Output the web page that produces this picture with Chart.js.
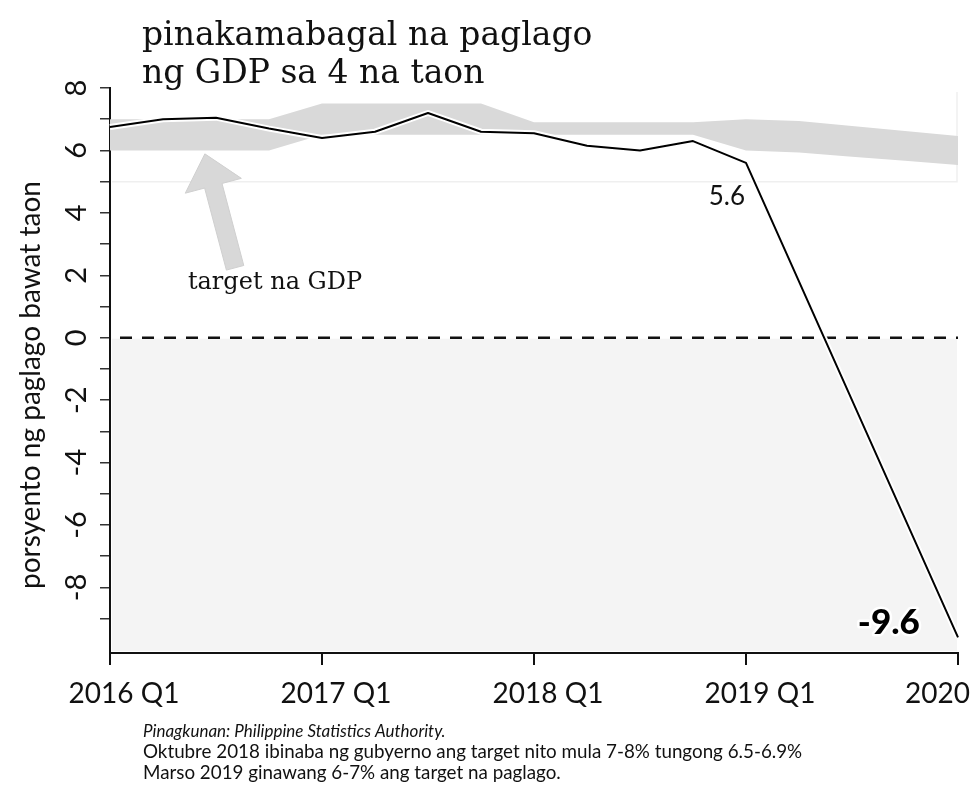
<!DOCTYPE html>
<html>
<head>
<meta charset="utf-8">
<script src="https://cdn.jsdelivr.net/npm/chart.js@4.4.1/dist/chart.umd.min.js"></script>
<style>
  html, body { margin: 0; padding: 0; background: #ffffff; }
  #wrap { width: 971px; height: 785px; position: relative; }
  canvas { display: block; }
</style>
</head>
<body>
<div id="wrap"><canvas id="c" width="971" height="785"></canvas></div>
<script>
// ---------- data ----------
const quarters = ['2016 Q1','2016 Q2','2016 Q3','2016 Q4','2017 Q1','2017 Q2','2017 Q3','2017 Q4',
                  '2018 Q1','2018 Q2','2018 Q3','2018 Q4','2019 Q1','2019 Q2','2019 Q3','2019 Q4','2020'];
const gdpGrowth   = [6.75, 7.0, 7.05, 6.7, 6.4, 6.6, 7.2, 6.6, 6.55, 6.15, 6.0, 6.3, 5.6, null, null, null, -9.6];
const targetUpper = [7.0, 7.0, 7.0, 7.0, 7.5, 7.5, 7.5, 7.5, 6.9, 6.9, 6.9, 6.9, 7.0, 6.94, 6.78, 6.62, 6.46];
const targetLower = [6.0, 6.0, 6.0, 6.0, 6.5, 6.5, 6.5, 6.5, 6.5, 6.5, 6.5, 6.5, 6.0, 5.93, 5.8, 5.67, 5.53];
const xTickLabels = ['2016 Q1','2017 Q1','2018 Q1','2019 Q1','2020'];
const yTickValues = [-9,-8,-7,-6,-5,-4,-3,-2,-1,0,1,2,3,4,5,6,7,8];
const yTickLabels = ['','-8','','-6','','-4','','-2','','0','','2','','4','','6','','8'];
const yAxisTitle  = 'porsyento ng paglago bawat taon';
const chartTitle  = ['pinakamabagal na paglago', 'ng GDP sa 4 na taon'];
const footnotes   = ['Pinagkunan: Philippine Statistics Authority.',
                     'Oktubre 2018 ibinaba ng gubyerno ang target nito mula 7-8% tungong 6.5-6.9%',
                     'Marso 2019 ginawang 6-7% ang target na paglago.'];
const targetLabel = 'target na GDP';
const lastQuarterLabel = '5.6';
const latestLabel = '-9.6';

// ---------- decorations ----------
const decor = {
  id: 'decor',
  beforeDatasetsDraw(chart) {
    const {ctx, chartArea: a, scales: {x, y}} = chart;
    ctx.save();
    // light panel below zero
    const y0 = y.getPixelForValue(0);
    ctx.fillStyle = '#f4f4f4';
    ctx.fillRect(a.left + 2, y0 + 1, a.right - a.left - 3, a.bottom - y0 - 3);
    // faint panel outline above 5
    const y5 = y.getPixelForValue(5);
    ctx.strokeStyle = '#efefef';
    ctx.lineWidth = 1.5;
    ctx.beginPath();
    ctx.moveTo(a.left + 2, y5);
    ctx.lineTo(a.right - 1, y5);
    ctx.lineTo(a.right - 1, a.top + 4);
    ctx.stroke();
    // dashed zero line
    ctx.strokeStyle = '#111';
    ctx.lineWidth = 2.6;
    ctx.setLineDash([12, 10]);
    ctx.lineDashOffset = 12;
    ctx.beginPath();
    ctx.moveTo(a.left, y0);
    ctx.lineTo(a.right, y0);
    ctx.stroke();
    ctx.setLineDash([]);
    // arrow pointing at the target band
    const tip = {x: x.getPixelForValue(1.79), y: y.getPixelForValue(5.89)};
    const tail = {x: x.getPixelForValue(2.36), y: y.getPixelForValue(2.24)};
    const dx = tip.x - tail.x, dy = tip.y - tail.y, len = Math.hypot(dx, dy);
    const ux = dx / len, uy = dy / len, nx = -uy, ny = ux;
    const headLen = 33, headHalf = 29, shaftHalf = 9;
    const bx = tip.x - ux * headLen, by = tip.y - uy * headLen;
    ctx.fillStyle = '#d8d8d8';
    ctx.strokeStyle = '#cfcfcf';
    ctx.lineWidth = 1;
    ctx.beginPath();
    ctx.moveTo(tip.x, tip.y);
    ctx.lineTo(bx + nx * headHalf, by + ny * headHalf);
    ctx.lineTo(bx + nx * shaftHalf, by + ny * shaftHalf);
    ctx.lineTo(tail.x + nx * shaftHalf, tail.y + ny * shaftHalf);
    ctx.lineTo(tail.x - nx * shaftHalf, tail.y - ny * shaftHalf);
    ctx.lineTo(bx - nx * shaftHalf, by - ny * shaftHalf);
    ctx.lineTo(bx - nx * headHalf, by - ny * headHalf);
    ctx.closePath();
    ctx.fill();
    ctx.stroke();
    ctx.restore();
  },
  afterDraw(chart) {
    const {ctx, chartArea: a, scales: {x, y}} = chart;
    ctx.save();
    // x tick labels
    ctx.fillStyle = '#111';
    ctx.font = '28px Lato';
    ctx.textBaseline = 'alphabetic';
    ctx.textAlign = 'center';
    xTickLabels.forEach(lbl => {
      const idx = quarters.indexOf(lbl);
      let px = x.getPixelForValue(idx) + 14;
      const w = ctx.measureText(lbl).width;
      if (px + w / 2 > chart.width - 1) px = chart.width - 1 - w / 2;
      ctx.fillText(lbl, px, a.bottom + 50);
    });
    // y axis title
    ctx.save();
    ctx.translate(31, 385);
    ctx.rotate(-Math.PI / 2);
    ctx.textAlign = 'center';
    ctx.textBaseline = 'middle';
    ctx.font = '28px Lato';
    ctx.fillText(yAxisTitle, 0, 0);
    ctx.restore();
    // title
    ctx.textAlign = 'left';
    ctx.textBaseline = 'alphabetic';
    ctx.fillStyle = '#111';
    ctx.font = '33px "DejaVu Serif"';
    ctx.fillText(chartTitle[0], 142, 45);
    ctx.fillText(chartTitle[1], 142, 83);
    // annotations
    ctx.font = '24px "DejaVu Serif"';
    ctx.fillText(targetLabel, x.getPixelForValue(1.47), y.getPixelForValue(1.57));
    ctx.font = '26px Lato';
    ctx.textAlign = 'right';
    ctx.fillText(lastQuarterLabel, x.getPixelForValue(12) - 1, y.getPixelForValue(4.25));
    ctx.font = '900 35px Lato';
    ctx.lineJoin = 'round';
    ctx.strokeStyle = '#ffffff';
    ctx.lineWidth = 5;
    const lx = x.getPixelForValue(15.28), ly = y.getPixelForValue(-9.5);
    ctx.strokeText(latestLabel, lx, ly);
    ctx.fillStyle = '#000';
    ctx.fillText(latestLabel, lx, ly);
    // footnotes
    ctx.textAlign = 'left';
    ctx.fillStyle = '#111';
    ctx.font = 'italic 17px Lato';
    ctx.fillText(footnotes[0], 143, 737);
    ctx.font = '18.8px Lato';
    ctx.fillText(footnotes[1], 143, 758);
    ctx.fillText(footnotes[2], 143, 779);
    ctx.restore();
  }
};

function draw() {
  new Chart(document.getElementById('c'), {
    type: 'line',
    data: {
      labels: quarters,
      datasets: [
        { label: 'target itaas', data: targetUpper, fill: '+1', backgroundColor: '#d9d9d9',
          borderWidth: 0, pointRadius: 0, tension: 0, order: 4 },
        { label: 'target ibaba', data: targetLower, fill: false, borderWidth: 0,
          pointRadius: 0, tension: 0, order: 3 },
        { label: 'halo', data: gdpGrowth, borderColor: '#ffffff', borderWidth: 6, spanGaps: true,
          pointRadius: 0, tension: 0, fill: false, borderJoinStyle: 'round', order: 2 },
        { label: 'GDP', data: gdpGrowth, borderColor: '#000000', borderWidth: 2, spanGaps: true,
          pointRadius: 0, tension: 0, fill: false, borderJoinStyle: 'round', order: 1 }
      ]
    },
    options: {
      responsive: false,
      animation: false,
      devicePixelRatio: 1,
      layout: { padding: { left: 0, right: 13, top: 88, bottom: 92 } },
      plugins: { legend: { display: false }, tooltip: { enabled: false }, title: { display: false } },
      scales: {
        x: {
          type: 'category',
          offset: false,
          afterBuildTicks: s => { s.ticks = s.ticks.filter(t => xTickLabels.includes(quarters[t.value])); },
          afterFit: s => { s.height = 40; s.paddingLeft = 0; s.paddingRight = 0; },
          grid: { drawOnChartArea: false, drawTicks: true, tickLength: 12, color: '#111', lineWidth: 2 },
          border: { display: true, color: '#111', width: 2 },
          ticks: { display: false }
        },
        y: {
          type: 'linear',
          min: -10.1,
          max: 8,
          afterBuildTicks: s => { s.ticks = yTickValues.map(v => ({ value: v })); },
          afterFit: s => { s.width = 110; s.paddingTop = 0; s.paddingBottom = 0; },
          grid: { drawOnChartArea: false, drawTicks: true, tickLength: 10, color: '#333', lineWidth: 1.5 },
          border: { display: true, color: '#111', width: 2 },
          ticks: {
            minRotation: 90, maxRotation: 90, crossAlign: 'center', padding: 10,
            color: '#111', font: { family: 'Lato', size: 29 },
            callback: v => { const i = yTickValues.indexOf(v); return i >= 0 ? yTickLabels[i] : ''; }
          },
          title: { display: false, text: yAxisTitle }
        }
      }
    },
    plugins: [decor]
  });
}

const fontLoads = ['28px Lato', '900 35px Lato', 'italic 17px Lato', '18.8px Lato', '33px "DejaVu Serif"'];
Promise.all(fontLoads.map(f => document.fonts.load(f))).then(draw, draw);
</script>
</body>
</html>
